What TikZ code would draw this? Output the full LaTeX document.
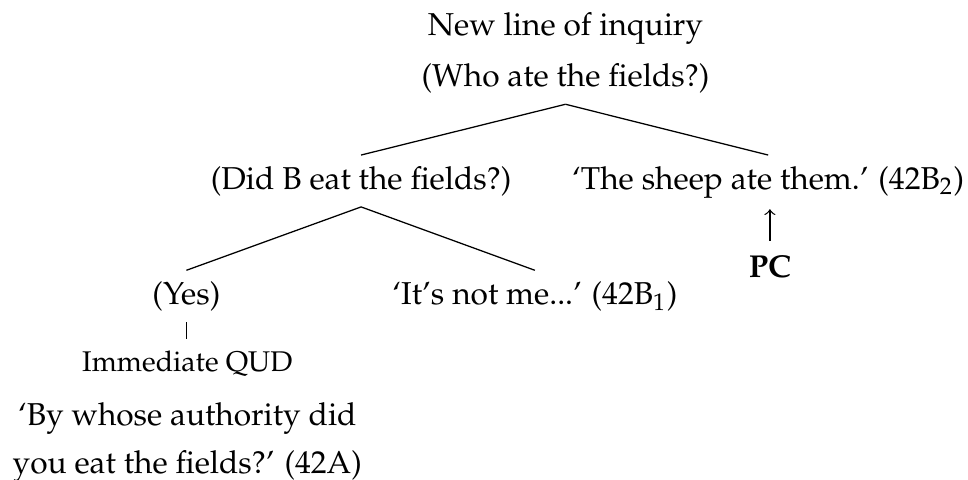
\documentclass[tikz,border=0pt]{standalone}
\usepackage[T1]{fontenc}
\usepackage{mathpazo}
\usepackage{tikz}
\usetikzlibrary{arrows,positioning}
\tikzset{
    %Define standard arrow tip
    >=to,
    %Define style for tree labels
    qnode/.style={
           inner sep=3.33pt,
           anchor=base,
           align=center},
    % Define branch style
    branch/.style={
           thin},
    % Define arrow style
    pcarrow/.style={
           ->,
           thin,
           shorten <=1pt,
           shorten >=0pt,}
}
\begin{document}
\begin{tikzpicture}
         \useasboundingbox (0,0) rectangle (10.75,-5.33);
         %nodes
          \node[qnode] (inquiry) at (6.28,-0.39) {New line of inquiry};
          \node[qnode] (who) at (6.28,-0.96) {(Who ate the fields?)};
          \node[qnode] (didb) at (4.01,-2.10) {(Did B eat the fields?)};
          \node[qnode] (sheep) at (8.53,-2.10) {`The sheep ate them.' (42B$_2$)};
          \node[qnode] (yes) at (2.07,-3.38) {(Yes)};
          \node[qnode] (notme) at (5.94,-3.38) {`It's not me...' (42B$_1$)};
          \node[qnode, font=\small] (qud) at (2.08,-4.12) {Immediate QUD};
          \node[qnode, anchor=north] (quote) at (2.08,-4.35)
          {`By whose authority did\\[3.2pt]you eat the fields?' (42A)};
          \node[qnode, font=\bfseries] (pc) at (8.55,-3.08) {PC};
         %branches
          \draw[branch] (who.south) -- (didb.north);
          \draw[branch] (who.south) -- (sheep.north);
          \draw[branch] (didb.south) -- (yes.north);
          \draw[branch] (didb.south) -- (notme.north);
          \draw[branch] (yes.south) -- (yes.south |- qud.north);
          \draw[pcarrow] (pc.north) -- (pc.north |- sheep.south);
        \end{tikzpicture}
\end{document}
